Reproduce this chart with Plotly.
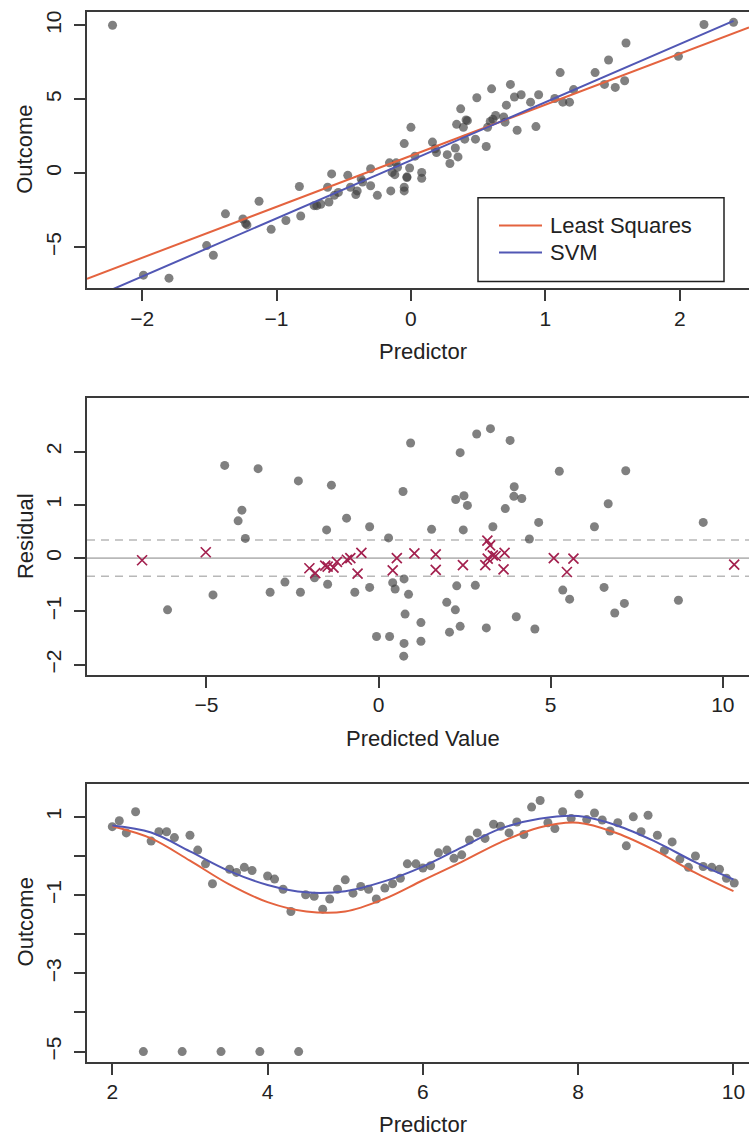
import plotly.graph_objects as go

# ---- Panel 1: linear data with an outlier ----
lin_x = [-2.22, -1.99, -1.80, -1.52, -1.47, -1.38, -1.25, -1.23, -1.22, -1.13,
         -1.04, -0.93, -0.83, -0.82, -0.72, -0.70, -0.67, -0.62, -0.61, -0.59,
         -0.57, -0.54, -0.47, -0.45, -0.41, -0.40, -0.37, -0.36, -0.30, -0.30,
         -0.25, -0.16, -0.15, -0.14, -0.12, -0.11, -0.10, -0.05, -0.05, -0.05,
         -0.03, -0.03, -0.01, 0.00, 0.03, 0.08, 0.08, 0.16, 0.18, 0.19,
         0.27, 0.29, 0.33, 0.34, 0.35, 0.37, 0.39, 0.40, 0.41, 0.42,
         0.48, 0.49, 0.56, 0.57, 0.59, 0.60, 0.61, 0.63, 0.69, 0.70,
         0.71, 0.74, 0.77, 0.79, 0.82, 0.89, 0.93, 0.95, 1.07, 1.11,
         1.13, 1.18, 1.21, 1.37, 1.44, 1.47, 1.52, 1.59, 1.60, 1.99,
         2.18, 2.40]
lin_y = [10.0, -6.9, -7.1, -4.9, -5.55, -2.75, -3.1, -3.4, -3.5, -1.9,
         -3.8, -3.2, -0.9, -2.9, -2.2, -2.2, -2.1, -0.95, -1.95, -0.05,
         -1.5, -1.3, -0.15, -0.95, -1.45, -1.2, -0.4, -0.6, 0.3, -0.85,
         -1.5, 0.7, -1.2, 0.05, -0.1, 0.7, 0.4, 2.0, -0.95, -1.2,
         -0.25, -0.3, 0.35, 3.1, 1.15, 0.05, -0.35, 2.1, 1.65, 1.4,
         1.25, 0.65, 1.7, 3.3, 1.1, 4.35, 3.1, 2.3, 3.6, 3.55,
         2.3, 5.1, 1.8, 3.1, 3.5, 5.7, 3.65, 3.9, 3.8, 3.45,
         4.6, 6.0, 5.15, 2.9, 5.3, 4.8, 3.15, 5.3, 5.05, 6.8,
         4.8, 4.8, 5.65, 6.8, 6.0, 7.65, 5.8, 6.25, 8.8, 7.9,
         10.05, 10.2]

# fitted lines (end points of each fit)
ls_line_x = [-2.41, 2.515]
ls_line_y = [-7.14, 9.86]
svm_line_x = [-2.41, 2.40]
svm_line_y = [-8.60, 10.30]

# ---- Panel 2: residuals vs predicted value ----
res_pred = [-6.13, -4.81, -4.47, -4.08, -3.97, -3.87, -3.50, -3.15, -2.72, -2.33,
            -2.27, -1.86, -1.51, -1.48, -1.37, -0.93, -0.69, -0.26, -0.26, -0.06,
            0.29, 0.32, 0.41, 0.48, 0.71, 0.74, 0.74, 0.73, 0.77, 0.87,
            0.93, 1.23, 1.23, 1.54, 1.98, 2.06, 2.23, 2.24, 2.27, 2.37,
            2.37, 2.46, 2.48, 2.58, 2.81, 2.85, 3.13, 3.25, 3.32, 3.68,
            3.82, 3.94, 3.93, 4.00, 4.16, 4.38, 4.54, 4.65, 5.25, 5.35,
            5.55, 6.27, 6.55, 6.67, 6.86, 7.14, 7.18, 8.71, 9.43]
res_val = [-0.97, -0.69, 1.74, 0.70, 0.90, 0.37, 1.68, -0.64, -0.45, 1.45,
           -0.64, -0.37, 0.53, -0.49, 1.37, 0.75, -0.64, 0.59, -0.55, -1.47,
           0.38, -1.47, -0.46, -0.58, 1.25, -0.39, -1.60, -1.84, -1.05, -0.68,
           2.16, -1.21, -1.56, 0.54, -0.83, -1.39, -0.97, 1.10, -0.52, 1.98,
           -1.28, 0.53, 1.17, 0.99, -0.51, 2.33, -1.31, 2.43, 0.59, 0.93,
           2.21, 1.34, 1.16, -1.10, 1.12, 0.36, -1.33, 0.67, 1.63, -0.60,
           -0.77, 0.59, -0.55, 1.02, -1.03, -0.85, 1.64, -0.79, 0.67]

sv_pred = [-6.87, -5.02, -2.01, -1.84, -1.55, -1.48, -1.31, -1.21, -0.92, -0.82,
           -0.61, -0.50, 0.41, 0.53, 1.04, 1.66, 1.66, 2.45, 3.10, 3.16,
           3.17, 3.24, 3.32, 3.40, 3.66, 3.63, 5.09, 5.47, 5.66, 10.33]
sv_val = [-0.04, 0.11, -0.19, -0.28, -0.14, -0.16, -0.18, -0.07, -0.03, 0.00,
          -0.29, 0.10, -0.23, 0.00, 0.09, 0.07, -0.22, -0.13, -0.13, 0.33,
          -0.01, 0.24, 0.05, 0.04, 0.10, -0.21, 0.00, -0.26, -0.01, -0.12]

eps_band = [0.0, 0.34, -0.34]

# ---- Panel 3: sinusoidal data ----
sin_x = [2.00, 2.09, 2.18, 2.30, 2.50, 2.60, 2.70, 2.80, 3.00, 3.10,
         3.20, 3.29, 3.51, 3.60, 3.70, 3.80, 4.00, 4.09, 4.20, 4.30,
         4.49, 4.60, 4.71, 4.80, 4.90, 5.00, 5.10, 5.20, 5.30, 5.40,
         5.51, 5.61, 5.71, 5.80, 5.91, 6.00, 6.10, 6.20, 6.31, 6.40,
         6.50, 6.60, 6.70, 6.80, 6.91, 7.00, 7.11, 7.21, 7.30, 7.40,
         7.51, 7.61, 7.70, 7.80, 7.91, 8.01, 8.11, 8.21, 8.31, 8.41,
         8.51, 8.62, 8.71, 8.81, 8.90, 9.02, 9.11, 9.21, 9.31, 9.42,
         9.51, 9.61, 9.72, 9.82, 9.91, 10.01,
         2.40, 2.90, 3.40, 3.90, 4.40]
sin_y = [0.75, 0.90, 0.59, 1.13, 0.38, 0.62, 0.62, 0.47, 0.53, 0.15,
         -0.20, -0.71, -0.34, -0.42, -0.29, -0.37, -0.51, -0.59, -0.85, -1.42,
         -0.99, -1.03, -1.36, -1.10, -0.85, -0.61, -0.95, -0.78, -0.85, -1.10,
         -0.82, -0.71, -0.57, -0.20, -0.20, -0.31, -0.25, 0.08, 0.15, -0.06,
         0.03, 0.41, 0.59, 0.45, 0.81, 0.76, 0.59, 0.87, 0.55, 1.25,
         1.42, 0.85, 0.70, 1.13, 0.96, 1.58, 0.93, 1.10, 0.92, 0.64,
         0.85, 0.26, 1.00, 0.62, 1.04, 0.53, 0.14, 0.36, -0.08, -0.29,
         0.00, -0.27, -0.29, -0.34, -0.57, -0.69,
         -5.0, -5.0, -5.0, -5.0, -5.0]

curve_x = [2.0, 2.5, 3.0, 3.5, 4.0, 4.5, 5.0, 5.5, 6.0, 6.5,
           7.0, 7.5, 8.0, 8.5, 9.0, 9.5, 10.0]
svm_curve = [0.78, 0.60, 0.12, -0.38, -0.74, -0.93, -0.90, -0.65, -0.27, 0.22,
             0.70, 0.95, 1.02, 0.78, 0.36, -0.15, -0.60]
ls_curve = [0.76, 0.45, -0.12, -0.72, -1.18, -1.42, -1.42, -1.10, -0.62, -0.15,
            0.35, 0.73, 0.85, 0.58, 0.13, -0.42, -0.90]

legend_names = ["Least Squares", "SVM"]

# ---- styling ----
FONT = "Liberation Sans, Arial, Helvetica, sans-serif"
RED = "#E4633F"
BLUE = "#5157B4"
DOT = "rgba(62,62,62,0.66)"
CROSS = "#A3214F"
FRAME = "#3a3a3a"
W, H = 749, 1138
ML = 87
PW = W - ML


def px_x(p):
    return (p - ML) / PW


def px_y(p):
    return 1 - p / H


fig = go.Figure()

# panel 1
fig.add_trace(go.Scatter(x=lin_x, y=lin_y, mode="markers", showlegend=False,
                         marker=dict(size=9, color=DOT, line=dict(width=0)),
                         xaxis="x", yaxis="y"))
fig.add_trace(go.Scatter(x=ls_line_x, y=ls_line_y, mode="lines", name=legend_names[0],
                         showlegend=False,
                         line=dict(color=RED, width=2), xaxis="x", yaxis="y"))
fig.add_trace(go.Scatter(x=svm_line_x, y=svm_line_y, mode="lines", name=legend_names[1],
                         showlegend=False,
                         line=dict(color=BLUE, width=2), xaxis="x", yaxis="y"))

# panel 2 reference lines
for v in eps_band:
    fig.add_trace(go.Scatter(x=[-8.47, 10.76], y=[v, v], mode="lines", showlegend=False,
                             line=dict(color="#b8b8b8", width=1.6,
                                       dash="solid" if v == 0 else "8px,6px"),
                             xaxis="x2", yaxis="y2", hoverinfo="skip"))
fig.add_trace(go.Scatter(x=res_pred, y=res_val, mode="markers", showlegend=False,
                         marker=dict(size=9, color=DOT, line=dict(width=0)),
                         xaxis="x2", yaxis="y2"))
fig.add_trace(go.Scatter(x=sv_pred, y=sv_val, mode="markers", showlegend=False,
                         marker=dict(size=10, symbol="x-thin-open", color=CROSS,
                                     line=dict(width=1.7, color=CROSS)),
                         xaxis="x2", yaxis="y2"))

# panel 3
fig.add_trace(go.Scatter(x=sin_x, y=sin_y, mode="markers", showlegend=False,
                         marker=dict(size=9, color=DOT, line=dict(width=0)),
                         xaxis="x3", yaxis="y3"))
fig.add_trace(go.Scatter(x=curve_x, y=ls_curve, mode="lines", showlegend=False,
                         line=dict(color=RED, width=2, shape="spline", smoothing=1.0),
                         xaxis="x3", yaxis="y3"))
fig.add_trace(go.Scatter(x=curve_x, y=svm_curve, mode="lines", showlegend=False,
                         line=dict(color=BLUE, width=2, shape="spline", smoothing=1.0),
                         xaxis="x3", yaxis="y3"))


def ydom(top, bottom):
    return [1 - bottom / H, 1 - top / H]


def xaxis_cfg(rng, vals, anchor):
    return dict(range=rng, tickvals=vals, ticks="outside", ticklen=11, tickwidth=1.5,
                tickcolor=FRAME, showline=True, linecolor=FRAME, linewidth=2,
                mirror=True, showgrid=False, zeroline=False, anchor=anchor,
                domain=[0, 1], tickfont=dict(size=21, color="#222", family=FONT),
                ticklabelstandoff=-1)


def yaxis_cfg(rng, vals, text, dom, anchor):
    return dict(range=rng, tickvals=vals, ticktext=text, ticks="outside", ticklen=11,
                tickwidth=1.5, tickcolor=FRAME, showline=True, linecolor=FRAME,
                linewidth=2, mirror=False, showgrid=False, zeroline=False,
                anchor=anchor, domain=dom, tickangle=-90,
                tickfont=dict(size=21, color="#222", family=FONT),
                ticklabelstandoff=5)


fig.update_layout(
    width=W, height=H,
    margin=dict(l=ML, r=0, t=0, b=0),
    plot_bgcolor="white", paper_bgcolor="white",
    font=dict(family=FONT, size=21, color="#222"),
    xaxis=xaxis_cfg([-2.41, 2.515], [-2, -1, 0, 1, 2], "y"),
    yaxis=yaxis_cfg([-7.8, 10.9], [-5, 0, 5, 10], ["−5", "0", "5", "10"],
                    ydom(10, 287), "x"),
    xaxis2=xaxis_cfg([-8.47, 10.76], [-5, 0, 5, 10], "y2"),
    yaxis2=yaxis_cfg([-2.19, 3.0], [-2, -1, 0, 1, 2], ["−2", "−1", "0", "1", "2"],
                     ydom(397, 674), "x2"),
    xaxis3=xaxis_cfg([1.674, 10.2], [2, 4, 6, 8, 10], "y3"),
    yaxis3=yaxis_cfg([-5.27, 1.85], [-5, -4, -3, -2, -1, 0, 1],
                     ["−5", "", "−3", "", "−1", "", "1"], ydom(783, 1062), "x3"),
    showlegend=False,
)

# legend box for panel 1
fig.add_shape(type="rect", xref="paper", yref="paper",
              x0=px_x(478), x1=px_x(724), y0=px_y(280), y1=px_y(196),
              line=dict(color="#222", width=1.5), fillcolor="white", layer="above")
for name, col, ly in [(legend_names[0], RED, 224), (legend_names[1], BLUE, 251)]:
    fig.add_shape(type="line", xref="paper", yref="paper",
                  x0=px_x(499), x1=px_x(542), y0=px_y(ly), y1=px_y(ly),
                  line=dict(color=col, width=2), layer="above")
    fig.add_annotation(text=name, xref="paper", yref="paper",
                       x=px_x(548), y=px_y(ly), xanchor="left", yanchor="middle",
                       showarrow=False,
                       font=dict(size=22, family=FONT, color="#222"))

# axis titles
titles = [
    ("Predictor", 423, 350, 0),
    ("Outcome", 25, 148, -90),
    ("Predicted Value", 423, 738, 0),
    ("Residual", 25, 535, -90),
    ("Predictor", 423, 1124, 0),
    ("Outcome", 25, 922, -90),
]
for txt, px, py, ang in titles:
    fig.add_annotation(text=txt, xref="paper", yref="paper",
                       x=px_x(px), y=px_y(py), xanchor="center", yanchor="middle",
                       showarrow=False, textangle=ang,
                       font=dict(size=22, family=FONT, color="#222"))

fig.write_html("out.html")
